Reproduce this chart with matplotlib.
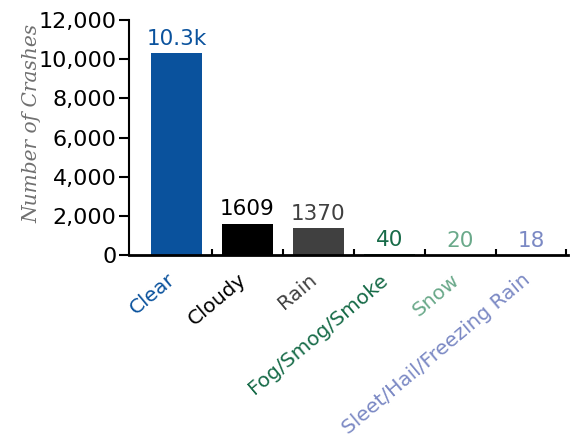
import matplotlib.pyplot as plt
from matplotlib.ticker import FuncFormatter

categories = ['Clear', 'Cloudy', 'Rain', 'Fog/Smog/Smoke', 'Snow', 'Sleet/Hail/Freezing Rain']
crashes = [10300, 1609, 1370, 40, 20, 18]
bar_text = ['10.3k', '1609', '1370', '40', '20', '18']
colors = ['#0a529d', '#000000', '#404040', '#176b48', '#6aa98a', '#7b89c4']

plt.rcParams['font.family'] = 'DejaVu Sans'

fig = plt.figure(figsize=(5.73, 4.46), dpi=100)
ax = fig.add_axes([0.225, 0.428, 0.766, 0.527])

x = range(len(categories))
ax.bar(x, crashes, width=0.72, color=colors)
for i, (v, t) in enumerate(zip(crashes, bar_text)):
    ax.annotate(t, (i, v), xytext=(0, 3), textcoords='offset points',
                ha='center', va='bottom', fontsize=15.5, color=colors[i])

ax.set_ylim(0, 12000)
ax.set_xlim(-0.67, 5.52)
ax.set_yticks(range(0, 12001, 2000))
ax.yaxis.set_major_formatter(FuncFormatter(lambda v, p: f'{int(v):,}'))
ax.tick_params(axis='y', labelsize=16, length=7, width=1.5, pad=2)

ax.set_xticks([i - 0.05 for i in x])
ax.set_xticklabels(categories, rotation=40, ha='right', va='center',
                   rotation_mode='anchor', fontsize=14.5)
for lbl, c in zip(ax.get_xticklabels(), colors):
    lbl.set_color(c)
ax.tick_params(axis='x', length=0, pad=16)
ax.set_xticks([i + 0.5 for i in x], minor=True)
ax.tick_params(axis='x', which='minor', direction='in', length=4, width=1.5)

for s in ['top', 'right']:
    ax.spines[s].set_visible(False)
ax.spines['left'].set_linewidth(1.5)
ax.spines['bottom'].set_linewidth(2)

ax.set_ylabel('Number of Crashes', family='DejaVu Serif', style='italic',
              fontsize=14.5, color='#707070')
ax.yaxis.set_label_coords(-0.2, 0.56)

fig.savefig('out.png', dpi=100)
